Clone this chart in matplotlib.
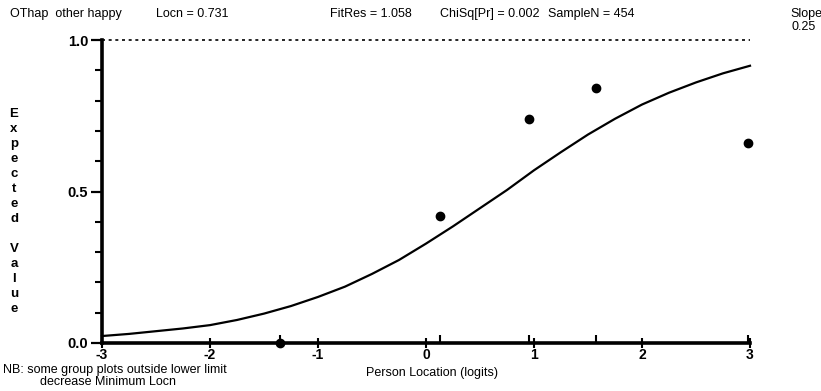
import numpy as np
import matplotlib
matplotlib.use("Agg")
import matplotlib.pyplot as plt

plt.rcParams['font.family'] = ['Liberation Sans Narrow', 'Liberation Sans', 'DejaVu Sans']

# ------------------------------------------------------------
# Data
# ------------------------------------------------------------
curve_x = [-3.0, -2.75, -2.5, -2.25, -2.0, -1.75, -1.5, -1.25, -1.0, -0.75, -0.5, -0.25,
           0.0, 0.25, 0.5, 0.75, 1.0, 1.25, 1.5, 1.75, 2.0, 2.25, 2.5, 2.75, 3.0]
curve_y = [0.023, 0.030, 0.039, 0.048, 0.059, 0.076, 0.097, 0.122, 0.152, 0.186, 0.228, 0.274,
           0.328, 0.385, 0.445, 0.505, 0.570, 0.630, 0.688, 0.740, 0.787, 0.826, 0.860, 0.890, 0.915]

group_x = [-1.35, 0.13, 0.95, 1.57, 2.98]
group_y = [0.0, 0.42, 0.74, 0.84, 0.66]

x_ticks = [-3, -2, -1, 0, 1, 2, 3]
y_ticks = [0.0, 0.5, 1.0]
y_minor = [0.1, 0.2, 0.3, 0.4, 0.6, 0.7, 0.8, 0.9]

header = [("OThap  other happy", 10), ("Locn = 0.731", 156), ("FitRes = 1.058", 330),
          ("ChiSq[Pr] = 0.002", 440), ("SampleN = 454", 548)]
ylabel_letters = "Expected Value"

W, H = 821, 391


def px(x, y):
    return x / W, 1 - y / H


fig = plt.figure(figsize=(W / 100, H / 100), dpi=100)
ax = fig.add_axes([102 / W, (H - 343) / H, 648 / W, 303 / H])

ax.plot(curve_x, curve_y, color='black', lw=1.6, clip_on=False)
ax.plot(group_x, group_y, 'o', color='black', ms=6, clip_on=False, zorder=5)
ax.axhline(1.0, color='black', lw=1.2, ls=(0, (1.8, 2.2)), clip_on=False)

ax.set_xlim(-3, 3)
ax.set_ylim(0, 1)
for s in ['top', 'right']:
    ax.spines[s].set_visible(False)
for s in ['left', 'bottom']:
    ax.spines[s].set_linewidth(2.6)

ax.set_xticks(x_ticks)
ax.set_xticklabels([str(v) for v in x_ticks], fontsize=10, fontweight='bold')
ax.set_xticks(group_x, minor=True)
ax.tick_params(axis='x', which='major', direction='inout', length=7, width=1.5, pad=0)
ax.tick_params(axis='x', which='minor', direction='in', length=6, width=1.5)

ax.set_yticks(y_ticks)
ax.set_yticklabels(['0.0', '0.5', '1.0'], fontsize=10.5, fontweight='bold')
ax.set_yticks(y_minor, minor=True)
ax.tick_params(axis='y', which='major', direction='out', length=8, width=1.6, pad=2)
ax.tick_params(axis='y', which='minor', direction='out', length=5, width=1.5)

# header texts
for txt, xpos in header:
    fig.text(*px(xpos, 14), txt, fontsize=9, va='center', ha='left')
fig.text(*px(790, 14), "Slope", fontsize=9, va='center', ha='left')
fig.text(*px(816, 27), "0.25", fontsize=9, va='center', ha='right')

# stacked y label
ypos = 114
for ch in ylabel_letters:
    if ch != ' ':
        fig.text(*px(14, ypos), ch, fontsize=9.5, fontweight='bold', va='center', ha='center')
    ypos += 15

fig.text(*px(432, 373), "Person Location (logits)", fontsize=9, va='center', ha='center')
fig.text(*px(3, 370), "NB: some group plots outside lower limit", fontsize=9, va='center', ha='left')
fig.text(*px(40, 382), "decrease Minimum Locn", fontsize=9, va='center', ha='left')

fig.savefig("out.png", dpi=100)
